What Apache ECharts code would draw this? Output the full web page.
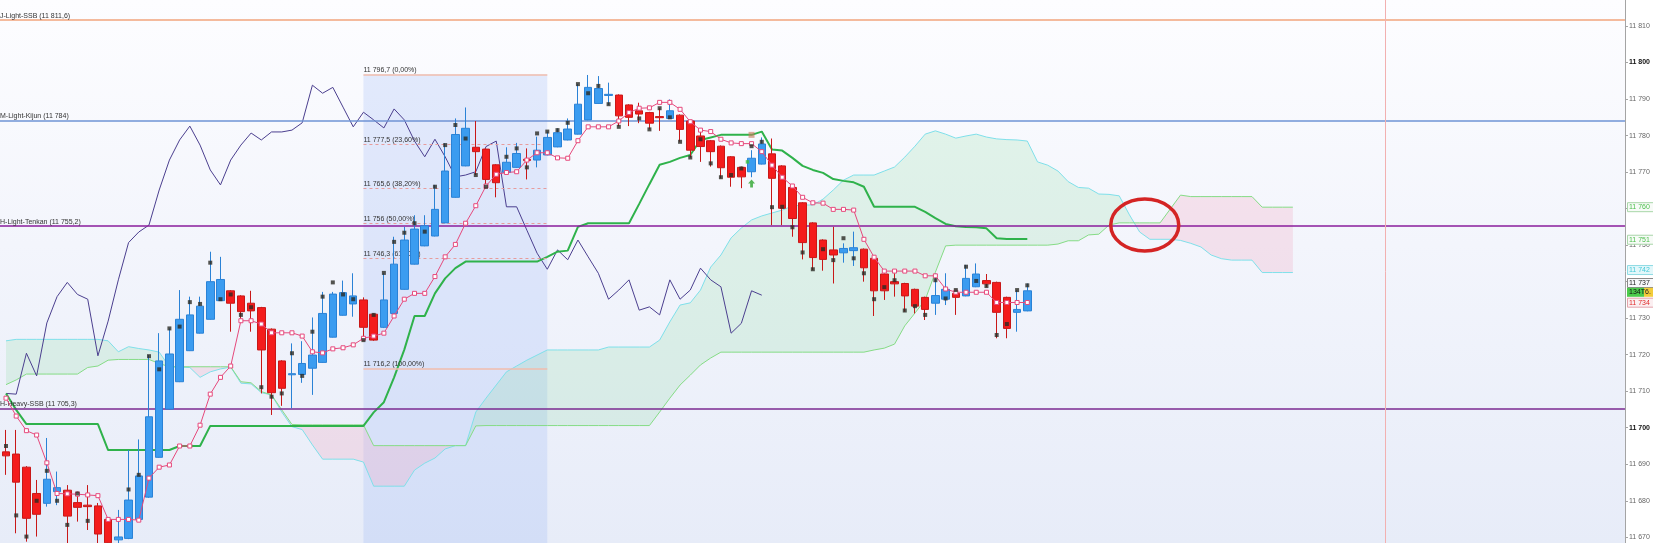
<!DOCTYPE html>
<html><head><meta charset="utf-8">
<script src="https://cdn.jsdelivr.net/npm/echarts@6/dist/echarts.min.js"></script>
<style>html,body{margin:0;padding:0;background:#fff;overflow:hidden}#c{width:1653px;height:543px}</style>
</head><body><div id="c"></div>
<script>
// ---------- DATA ----------
// candles: [open, close, low, high]
const candles = [
[11693.4,11692.3,11687.1,11699.4],[11692.8,11685.1,11671.1,11699.4],[11689.2,11675.2,11668.8,11689.5],[11682.0,11676.3,11670.2,11685.7],[11679.3,11685.9,11678.4,11697.2],
[11682.5,11683.6,11678.8,11688.0],[11682.9,11675.8,11667.9,11684.3],[11679.5,11678.2,11674.3,11682.5],[11678.8,11678.4,11672.0,11684.3],[11678.6,11670.9,11668.4,11679.4],
[11674.9,11668.5,11666.5,11675.0],[11669.3,11670.1,11666.5,11677.5],[11669.7,11680.2,11669.5,11693.9],[11674.9,11686.8,11674.8,11696.8],[11681.0,11703.0,11680.8,11719.9],
[11691.9,11718.3,11691.8,11725.9],[11705.1,11720.2,11705.0,11727.2],[11712.6,11729.7,11712.5,11737.7],[11721.1,11730.9,11721.0,11735.9],[11725.9,11733.3,11725.8,11735.9],
[11729.7,11740.0,11729.6,11748.2],[11734.8,11740.6,11734.7,11746.8],[11737.5,11734.1,11726.3,11737.7],[11736.1,11731.8,11729.0,11736.3],[11734.1,11732.0,11726.3,11737.5],
[11732.9,11721.3,11709.4,11733.1],[11727.0,11709.6,11703.5,11727.2],[11718.3,11710.8,11706.0,11718.5],[11714.5,11714.8,11705.3,11723.1],[11714.6,11717.6,11712.3,11723.7],
[11716.3,11719.9,11709.0,11730.2],[11717.9,11731.3,11717.8,11737.2],[11724.8,11736.6,11724.7,11737.2],[11730.8,11737.0,11730.7,11740.3],[11733.9,11736.1,11730.4,11742.3],
[11735.0,11727.5,11724.0,11735.7],[11731.1,11724.0,11723.8,11731.3],[11727.5,11735.0,11727.3,11742.3],[11731.3,11744.8,11731.2,11752.3],[11737.9,11751.4,11737.8,11755.0],
[11744.8,11754.4,11744.7,11758.2],[11749.8,11755.3,11749.7,11758.2],[11752.5,11759.8,11752.4,11766.5],[11756.1,11770.3,11756.0,11777.9],[11763.1,11780.3,11763.0,11784.7],
[11771.7,11782.0,11771.6,11787.7],[11776.8,11775.6,11769.2,11784.0],[11776.3,11768.0,11766.0,11776.5],[11772.0,11767.1,11763.1,11772.2],[11769.9,11772.7,11769.8,11776.8],
[11771.3,11775.1,11771.2,11778.0],[11773.5,11773.2,11768.0,11776.5],[11773.3,11776.0,11771.3,11779.7],[11774.7,11779.5,11774.6,11781.1],[11776.9,11780.8,11776.8,11782.0],
[11778.8,11781.8,11778.7,11784.7],[11780.4,11788.6,11780.3,11794.1],[11784.3,11793.2,11784.2,11796.6],[11788.8,11792.9,11788.7,11796.3],[11791.0,11791.3,11788.4,11794.5],
[11791.1,11785.4,11782.6,11791.3],[11788.4,11785.0,11782.6,11788.6],[11786.8,11785.9,11783.4,11789.0],[11786.3,11783.4,11781.7,11786.5],[11785.2,11784.9,11781.3,11787.5],
[11784.7,11786.8,11784.6,11789.9],[11785.6,11781.7,11778.3,11785.8],[11784.0,11776.0,11774.0,11784.2],[11779.9,11777.0,11772.8,11781.1],[11778.6,11775.6,11771.5,11778.8],
[11777.1,11771.2,11768.3,11777.3],[11774.2,11768.6,11766.0,11774.4],[11771.3,11768.7,11765.6,11771.5],[11770.1,11773.8,11768.6,11776.0],[11772.2,11777.7,11772.1,11779.5],
[11775.0,11768.3,11755.5,11779.2],[11771.7,11760.1,11755.5,11771.9],[11765.8,11757.3,11752.3,11766.0],[11761.6,11750.7,11746.1,11761.8],[11756.1,11746.6,11743.2,11756.3],
[11751.4,11746.1,11743.0,11751.6],[11748.7,11747.3,11739.5,11755.0],[11747.9,11749.1,11745.2,11750.5],[11748.5,11749.3,11744.3,11753.7],[11748.9,11743.8,11740.0,11749.1],
[11746.4,11737.5,11730.6,11746.6],[11742.1,11737.5,11735.0,11742.3],[11740.0,11739.4,11735.9,11742.3],[11739.5,11736.1,11731.8,11739.7],[11737.9,11733.3,11731.3,11738.1],
[11735.7,11732.4,11729.5,11735.9],[11734.1,11736.2,11730.9,11742.3],[11735.2,11737.9,11733.6,11742.3],[11736.8,11735.7,11730.9,11737.0],[11736.1,11740.9,11736.0,11744.6],
[11738.6,11742.1,11738.5,11745.0],[11740.3,11739.4,11738.5,11742.1],[11739.8,11731.6,11724.5,11740.0],[11735.7,11727.2,11724.5,11735.9],[11731.6,11732.4,11726.3,11737.7],
[11732.0,11737.5,11731.9,11739.5]
];
// black square markers, one per candle (null = none)
const dotValues = [
11695.0,11676.0,11670.2,11680.0,11688.2,11680.0,11673.4,11682.0,11674.5,null,
null,null,11683.1,11687.1,11719.6,11716.0,11727.2,11727.7,11734.4,11733.9,
11745.2,11735.2,11736.5,11730.9,11733.0,11711.1,11708.5,11709.4,11720.4,11714.2,
11726.3,11735.9,11739.8,11736.5,11735.2,11724.0,11730.9,11742.4,11750.9,11753.4,
11756.0,11753.7,11766.0,11777.4,11782.9,11779.2,11769.2,11766.0,null,11774.2,
11776.5,11771.3,11780.6,11781.1,11781.5,11783.5,11794.1,11791.6,11793.6,11788.6,
11782.4,null,11784.7,11781.7,11787.5,11785.0,11778.3,11774.0,11779.0,11772.4,
11768.6,11769.2,11771.0,11777.1,11778.3,11760.4,11760.5,11754.9,11748.0,11743.4,
11748.9,11745.9,11751.9,11746.4,11742.3,11735.2,11738.5,11740.4,11732.1,11733.3,
11730.9,11740.4,11735.4,11737.7,11744.1,11740.2,11738.8,11725.4,11728.4,11737.7,
11739.0
];
const tenkan = [
11708.1,11703.2,11699.2,11698.0,11690.4,11682.0,11681.9,11681.8,11681.6,11681.4,
11674.9,11674.9,11674.9,11674.7,11686.2,11689.2,11689.8,11695.0,11695.0,11700.7,
11709.2,11713.8,11716.9,11729.3,11729.3,11728.4,11726.0,11726.0,11726.0,11725.1,
11720.8,11720.5,11721.6,11721.9,11722.7,11724.5,11725.1,11725.9,11730.6,11735.2,
11736.8,11736.8,11741.4,11746.8,11750.2,11756.0,11760.8,11766.2,11769.4,11769.9,
11770.1,11773.3,11775.3,11775.3,11773.9,11773.8,11778.6,11782.4,11782.4,11782.4,
11784.0,11786.3,11787.5,11787.6,11789.1,11789.1,11787.2,11783.8,11781.5,11781.1,
11779.0,11778.0,11777.8,11777.8,11775.6,11771.9,11768.6,11766.2,11763.1,11761.6,
11761.5,11759.8,11759.8,11759.6,11751.6,11746.7,11742.9,11742.9,11742.9,11742.9,
11741.6,11741.6,11738.0,11737.1,11737.1,11737.1,11737.1,11734.3,11734.3,11734.3,
11734.3
];
const kijun = [
11709.4,11704.9,11701.0,11701.0,11701.0,11701.0,11701.0,11701.0,11701.0,11701.0,
11693.9,11693.9,11693.9,11693.9,11693.9,11693.9,11693.9,11695.0,11695.0,11695.0,
11700.5,11700.5,11700.5,11700.5,11700.5,11700.5,11700.5,11700.5,11700.5,11700.5,
11700.5,11700.5,11700.5,11700.5,11700.5,11700.5,11704.2,11707.0,11713.8,11721.4,
11730.6,11730.6,11736.8,11740.9,11743.7,11745.5,11745.5,11745.5,11745.5,11745.5,
11745.5,11745.5,11745.5,11746.8,11748.2,11748.5,11755.0,11756.0,11756.0,11756.0,
11756.0,11756.0,11761.3,11766.7,11772.0,11772.8,11773.9,11774.7,11778.8,11779.5,
11780.2,11780.2,11780.2,11780.2,11781.1,11776.2,11775.9,11773.9,11771.7,11770.6,
11769.8,11768.1,11767.6,11767.2,11766.0,11760.5,11760.5,11760.5,11760.5,11760.5,
11759.1,11757.4,11755.8,11755.2,11755.0,11754.9,11754.6,11751.9,11751.7,11751.7,
11751.7
];
const chikou = [
11709.4,11709.2,11720.4,11714.2,11728.7,11735.9,11739.8,11736.5,11735.2,11719.7,
11729.2,11740.5,11750.7,11753.6,11755.5,11765.1,11773.3,11778.8,11782.6,11777.4,
11770.6,11766.5,11773.3,11777.4,11780.7,11778.8,11781.0,11781.0,11781.5,11783.5,
11793.8,11791.6,11793.2,11787.8,11782.4,11786.4,11784.3,11782.1,11787.3,11784.3,
11778.5,11774.2,11779.0,11774.2,11768.7,11769.2,11770.1,11777.0,11778.5,11760.5,
11760.5,11754.1,11747.8,11743.4,11748.7,11746.0,11751.4,11746.8,11742.3,11735.2,
11737.7,11740.5,11732.2,11733.1,11730.9,11740.5,11735.2,11737.7,11743.7,11740.5,
11738.6,11725.9,11728.6,11737.5,11736.3
];
const spanA = [
11723.8,11724.2,11724.2,11724.2,11724.2,11724.2,11724.2,11724.2,11724.2,11724.2,
11723.8,11720.8,11722.2,11721.7,11721.3,11720.7,11716.7,11716.6,11716.5,11713.8,
11715.3,11716.1,11716.6,11712.2,11712.0,11709.6,11709.0,11704.3,11700.3,11699.5,
11695.3,11691.4,11691.4,11691.4,11691.4,11690.6,11684.0,11684.0,11684.0,11684.0,
11688.4,11690.3,11691.7,11694.2,11695.1,11695.1,11704.3,11708.1,11711.7,11715.3,
11716.9,11718.5,11719.9,11721.3,11721.3,11721.3,11721.3,11721.3,11721.3,11722.1,
11722.1,11722.1,11722.1,11722.1,11724.0,11729.0,11733.6,11734.2,11737.7,11744.0,
11747.3,11752.0,11754.7,11756.9,11758.0,11758.8,11759.6,11760.7,11761.0,11761.0,
11762.6,11765.1,11767.8,11769.2,11769.2,11769.2,11770.3,11771.4,11774.1,11777.1,
11780.4,11781.3,11780.4,11779.3,11779.9,11780.4,11779.6,11779.1,11778.9,11778.8,
11778.5,11772.8,11771.9,11770.3,11767.4,11765.8,11765.6,11764.0,11763.9,11763.5,
11758.3,11753.6,11751.6,11751.6,11751.6,11751.3,11750.5,11749.5,11747.3,11746.3,
11745.9,11745.9,11745.9,11742.5,11742.5,11742.5,11742.5
];
const spanB = [
11711.8,11713.1,11714.7,11714.7,11714.7,11714.7,11714.7,11714.7,11716.5,11716.9,
11718.5,11718.7,11718.7,11718.7,11718.7,11717.6,11716.7,11716.7,11716.7,11716.7,
11716.7,11716.7,11716.7,11712.6,11712.3,11709.9,11709.0,11704.9,11700.9,11700.8,
11700.8,11700.8,11700.8,11700.8,11700.8,11700.8,11695.1,11695.1,11695.1,11695.1,
11695.1,11695.1,11695.1,11695.1,11695.1,11695.1,11700.5,11700.6,11700.6,11700.6,
11700.6,11700.6,11700.6,11700.6,11700.6,11700.6,11700.6,11700.6,11700.6,11700.6,
11700.6,11700.6,11700.6,11700.6,11704.3,11708.1,11711.7,11714.4,11717.2,11719.1,
11720.7,11720.7,11720.7,11720.7,11720.7,11720.7,11720.7,11720.7,11720.7,11720.7,
11720.7,11720.7,11720.7,11720.7,11720.7,11721.3,11721.8,11722.9,11727.9,11731.4,
11735.0,11742.6,11749.8,11750.0,11750.0,11750.0,11750.0,11750.0,11750.0,11750.0,
11750.0,11750.0,11750.0,11750.3,11751.2,11751.2,11752.8,11753.0,11755.5,11756.1,
11756.1,11756.1,11756.1,11756.1,11759.9,11763.7,11763.3,11763.3,11763.3,11763.3,
11763.3,11763.3,11763.3,11760.4,11760.4,11760.4,11760.4
];
const hLevels = [11811.6, 11784.0, 11755.2, 11705.3];
const hLabels = ['J-Light-SSB (11 811,6)', 'M-Light-Kijun (11 784)', 'H-Light-Tenkan (11 755,2)', 'H-Heavy-SSB (11 705,3)'];
const fibLevels = [11796.7, 11777.5, 11765.6, 11756.0, 11746.3, 11716.2];
const fibLabels = ['11 796,7 (0,00%)', '11 777,5 (23,60%)', '11 765,6 (38,20%)', '11 756 (50,00%)', '11 746,3 (61,80%)', '11 716,2 (100,00%)'];
const fibRange = [35, 53];
const vLineIndex = 135;
const arrowPoint = [73, 11766.9];
const signalPoint = [73, 11780.2];
const smallGreenPoint = [72.6, 11772.8];
const circlePoint = [111.5, 11755.5];
const tagValues = [11760.4, 11751.7, 11742.5, 11737.5, 11737.5, 11734.3];
const tagTexts = ['11 760', '11 751', '11 742', '11 737', '134T', '11 734'];
const yTickValues = [11670, 11680, 11690, 11700, 11710, 11720, 11730, 11740, 11750, 11760, 11770, 11780, 11790, 11800, 11810];
const yRange = [11668.44, 11817.13];

// ---------- STYLES ----------
const FONT = 'Liberation Sans, Arial, sans-serif';
const hColors = ['#f2a57c', '#6f93d4', '#8a1c9c', '#7b2a90'];
const fibSolid = '#f1bcac', fibDash = '#e79c9c';
const tagStyles = [
  {dy: 0, fg: '#4cbf4c', bg: '#f7fbf7', bd: '#a9d6a9'},
  {dy: 0.8, fg: '#4cbf4c', bg: '#f7fbf7', bd: '#a9d6a9'},
  {dy: -2.5, fg: '#45c9d8', bg: '#e2f7fa', bd: '#8fdbe4'},
  {dy: -7.8, fg: '#222', bg: '#f7f8fb', bd: '#8a8a8a'},
  {dy: 1.5, fg: '#111', bg: '#4ccb4c', bd: '#3aa03a'},
  {dy: 0.2, fg: '#e02a2a', bg: '#fbeff1', bd: '#e3a3ab'}
];

const chart = echarts.init(document.getElementById('c'), null, {renderer: 'canvas'});
const X0 = -0.5875, X1 = 158.52;

const candleData = candles.map((c, i) => [i, c[0], c[1], c[2], c[3]]);
const idx = arr => arr.map((v, i) => [i, v]);
const dotData = dotValues.map((v, i) => v == null ? null : [i, v]).filter(Boolean);

const GREEN = 'rgba(112,214,136,0.17)', PINK = 'rgba(240,170,195,0.28)';

function cloudRender(params, api) {
  const n = spanA.length;
  const P = (x, v) => api.coord([x, v]);
  const polys = [];
  let top = [], bot = [], sign = null;
  for (let i = 0; i < n; i++) {
    const d = spanA[i] - spanB[i];
    const s = d >= 0 ? 1 : -1;
    if (sign === null) { sign = s; top.push(P(i, spanA[i])); bot.push(P(i, spanB[i])); continue; }
    if (s !== sign) {
      const dp = spanA[i - 1] - spanB[i - 1];
      const t = dp / (dp - d);
      const px = P(i - 1 + t, spanA[i - 1] + t * (spanA[i] - spanA[i - 1]));
      top.push(px);
      polys.push({sign, pts: top.concat(bot.slice().reverse())});
      top = [px]; bot = [px]; sign = s;
    }
    top.push(P(i, spanA[i])); bot.push(P(i, spanB[i]));
  }
  polys.push({sign, pts: top.concat(bot.slice().reverse())});
  return {type: 'group', children: polys.map(p => ({type: 'polygon', shape: {points: p.pts}, style: {fill: p.sign > 0 ? GREEN : PINK}}))};
}

const fmt = v => Math.floor(v / 1000) + ' ' + String(Math.round(v % 1000)).padStart(3, '0');

const option = {
  animation: false,
  backgroundColor: '#ffffff',
  grid: {left: 0, right: 28, top: 0, bottom: 0, show: true, borderWidth: 0,
    backgroundColor: new echarts.graphic.LinearGradient(0, 0, 0, 1, [
      {offset: 0, color: '#fdfdff'}, {offset: 0.45, color: '#f3f5fc'}, {offset: 1, color: '#e7ecf8'}])},
  xAxis: {type: 'value', min: X0, max: X1, show: false},
  yAxis: {type: 'value', position: 'right', min: yRange[0], max: yRange[1],
    axisLine: {show: true, onZero: false, lineStyle: {color: '#a4a4a4', width: 1}},
    axisTick: {show: true, length: 3, customValues: yTickValues, lineStyle: {color: '#a4a4a4'}},
    splitLine: {show: false},
    axisLabel: {margin: 4, fontSize: 7, fontFamily: FONT, color: '#666', customValues: yTickValues,
      formatter: v => (Math.round(v) % 100 === 0) ? '{b|' + fmt(v) + '}' : fmt(v),
      rich: {b: {fontWeight: 'bold', color: '#111', fontSize: 7, fontFamily: FONT}}}
  },
  series: [
    {type: 'custom', name: 'cloud', renderItem: cloudRender, data: [[0, spanA[0]]], encode: {x: 0, y: 1}, z: 1, silent: true, clip: true},
    {type: 'line', name: 'fib', data: [], z: 2, silent: true,
      markArea: {silent: true, itemStyle: {color: 'rgba(150,180,245,0.24)'},
        data: [[{coord: [fibRange[0], fibLevels[0]]}, {coord: [fibRange[1], yRange[0]]}]]},
      markLine: {silent: true, symbol: ['none', 'none'],
        data: fibLevels.map((v, k) => [
          {coord: [fibRange[0], v], lineStyle: {color: (k === 0 || k === fibLevels.length - 1) ? fibSolid : fibDash,
            width: (k === 0 || k === fibLevels.length - 1) ? 1.6 : 1, type: (k === 0 || k === fibLevels.length - 1) ? 'solid' : [3, 3]},
            label: {show: true, position: 'insideStartTop', formatter: fibLabels[k], distance: [0, 1], fontSize: 7, fontFamily: FONT, color: '#333'}},
          {coord: [fibRange[1], v]}])}
    },
    {type: 'line', name: 'spanA', data: idx(spanA), showSymbol: false, lineStyle: {color: '#7fe0ea', width: 1}, z: 3, silent: true},
    {type: 'line', name: 'spanB', data: idx(spanB), showSymbol: false, lineStyle: {color: '#86dc86', width: 1}, z: 3, silent: true},
    {type: 'line', name: 'chikou', data: idx(chikou), showSymbol: false, lineStyle: {color: '#4b3f8f', width: 1}, z: 4, silent: true},
    {type: 'line', name: 'kijun', data: idx(kijun), showSymbol: false, lineStyle: {color: '#2fb24b', width: 2}, z: 4, silent: true},
    {type: 'candlestick', name: 'price', data: candleData, encode: {x: 0, y: [1, 2, 3, 4]}, barWidth: 8, z: 5,
      itemStyle: {color: '#3b9cf0', color0: '#f41c1c', borderColor: '#2a82d6', borderColor0: '#c81818', borderWidth: 1}},
    {type: 'line', name: 'tenkan', data: idx(tenkan), symbol: 'rect', symbolSize: 4, showSymbol: true,
      lineStyle: {color: '#e6497c', width: 1}, itemStyle: {color: '#ffffff', borderColor: '#e6497c', borderWidth: 1}, z: 6, silent: true},
    {type: 'scatter', name: 'dots', data: dotData, symbol: 'rect', symbolSize: 4, itemStyle: {color: '#2b2b24'}, z: 7, silent: true},
    {type: 'scatter', name: 'signals', z: 7, silent: true, data: [
      {value: arrowPoint, symbol: 'path://M5,0 L10,5 L7,5 L7,10 L3,10 L3,5 L0,5 Z', symbolSize: [7, 8], itemStyle: {color: '#2ea52e'}},
      {value: signalPoint, symbol: 'rect', symbolSize: 6, itemStyle: {color: 'rgba(200,120,90,0.75)'}},
      {value: smallGreenPoint, symbol: 'rect', symbolSize: 3.5, itemStyle: {color: '#3cc03c'}}]},
    {type: 'line', name: 'levels', data: [], z: 8, silent: true,
      markLine: {silent: true, symbol: ['none', 'none'],
        data: hLevels.map((v, k) => ({yAxis: v, lineStyle: {color: hColors[k], width: 1.5, type: 'solid'},
          label: {show: true, position: 'insideStartTop', formatter: hLabels[k], distance: [0, 1], fontSize: 7, fontFamily: FONT, color: '#333'}}))
          .concat([{xAxis: vLineIndex, lineStyle: {color: '#f2b0b0', width: 1, type: 'solid'}, label: {show: false}}])}
    }
  ]
};
chart.setOption(option);

// right-edge price tags + annotation ellipse
const g = [];
tagValues.forEach((v, k) => {
  const st = tagStyles[k];
  const y = chart.convertToPixel({seriesIndex: 6}, [0, v])[1] + st.dy;
  if (tagTexts[k] === '134T') {
    g.push({type: 'rect', shape: {x: 1644, y: y - 4.5, width: 9, height: 9}, style: {fill: '#f3cc3a'}, z: 100});
    g.push({type: 'text', x: 1645, y: y, style: {text: '6.', fill: '#222', font: '7px ' + FONT, verticalAlign: 'middle', textVerticalAlign: 'middle'}, z: 101});
    g.push({type: 'rect', shape: {x: 1627, y: y - 4.5, width: 17, height: 9}, style: {fill: st.bg}, z: 100});
  } else {
    g.push({type: 'rect', shape: {x: 1627.5, y: y - 4.5, width: 26, height: 9}, style: {fill: st.bg, stroke: st.bd, lineWidth: 1}, z: 100});
  }
  g.push({type: 'text', x: 1629, y: y, style: {text: tagTexts[k], fill: st.fg, font: '7px ' + FONT, verticalAlign: 'middle', textVerticalAlign: 'middle'}, z: 101});
});
const cp = chart.convertToPixel({seriesIndex: 6}, circlePoint);
g.push({type: 'ellipse', shape: {cx: cp[0], cy: cp[1], rx: 34, ry: 26}, style: {fill: 'none', stroke: '#d42424', lineWidth: 3.5}, z: 100});
chart.setOption({graphic: g});
</script>
</body></html>
